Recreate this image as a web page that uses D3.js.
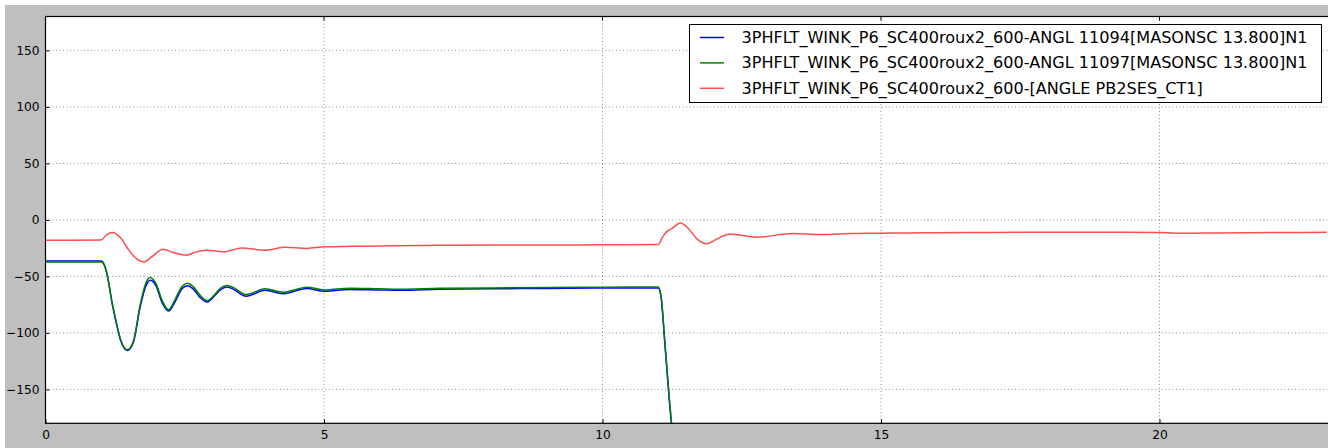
<!DOCTYPE html>
<html>
<head>
<meta charset="utf-8">
<script src="https://cdn.jsdelivr.net/npm/d3@7"></script>
<style>
  html, body { margin: 0; padding: 0; background: #ffffff; }
  svg { display: block; }
  text { font-family: "DejaVu Sans", sans-serif; fill: #000; }
</style>
</head>
<body>
<svg id="chart" width="1328" height="448"></svg>
<script>
// Simulation time (s) and angle traces (degrees)
const seriesNames = [
  "3PHFLT_WINK_P6_SC400roux2_600-ANGL 11094[MASONSC 13.800]N1",
  "3PHFLT_WINK_P6_SC400roux2_600-ANGL 11097[MASONSC 13.800]N1",
  "3PHFLT_WINK_P6_SC400roux2_600-[ANGLE PB2SES_CT1]"
];
const seriesColors = ["#0000ff", "#008000", "#ff2020"];

const tBlue = [0, 1.0, 1.05, 1.1, 1.2, 1.26, 1.35, 1.47, 1.58, 1.7, 1.8, 1.88, 1.98, 2.1, 2.21, 2.33, 2.45, 2.55, 2.65, 2.78, 2.9, 3.02, 3.14, 3.25, 3.36, 3.6, 3.94, 4.27, 4.69, 5.01, 5.46, 6.0, 6.36, 7.08, 8, 9, 10, 11.0, 11.05, 11.12, 11.2, 11.3];
const vBlue = [-36.3, -36.3, -39, -47, -75, -89, -107, -115.5, -108, -77, -59, -53.5, -58, -74, -80.7, -72, -61, -58.2, -61, -69, -72.7, -68, -62, -59.4, -61, -67.6, -62.3, -65.3, -60.8, -63.2, -61.5, -62, -62.3, -61.4, -61, -60.6, -60.3, -60.3, -68, -110, -160, -215];

const tGreen = [0, 1.0, 1.05, 1.1, 1.2, 1.26, 1.35, 1.47, 1.58, 1.7, 1.8, 1.88, 1.98, 2.1, 2.21, 2.33, 2.45, 2.55, 2.65, 2.78, 2.9, 3.02, 3.14, 3.25, 3.36, 3.6, 3.94, 4.27, 4.69, 5.01, 5.46, 6.0, 6.36, 7.08, 8, 9, 10, 11.0, 11.05, 11.12, 11.2, 11.3];
const vGreen = [-37.2, -37.2, -39.5, -47, -74, -88, -106, -115, -107, -75, -56, -51, -56, -72, -79.5, -70, -59, -56, -59, -67, -71.5, -67, -60.5, -58, -59.5, -66, -61, -64, -59.6, -62, -60.5, -61, -61.3, -60.5, -60.2, -59.8, -59.5, -59.4, -67, -108, -158, -213];

const tRed = [0, 1.0, 1.1, 1.21, 1.35, 1.5, 1.65, 1.77, 1.9, 2.11, 2.3, 2.53, 2.7, 2.9, 3.2, 3.52, 3.95, 4.3, 4.69, 5.02, 5.5, 6, 7.08, 8, 9, 10, 11.0, 11.08, 11.15, 11.25, 11.4, 11.55, 11.7, 11.87, 12.05, 12.29, 12.77, 13.42, 13.9, 14.3, 15, 15.5, 16, 17, 18, 19, 20, 20.5, 21, 22, 23];
const vRed = [-18, -17.8, -13, -11.2, -16, -27, -35, -37.2, -33, -26, -29, -31.3, -28.5, -26.9, -28.3, -24.8, -26.9, -24.3, -25.2, -23.8, -23.4, -23, -22.5, -22.3, -22.2, -22, -21.8, -15, -10.6, -7.5, -2.7, -8, -17, -21, -17, -12.4, -15.3, -12.1, -13, -12.3, -11.8, -11.5, -11.3, -11.1, -11, -11, -11.2, -11.8, -11.5, -11.2, -11];

const xTicks = [0, 5, 10, 15, 20];
const yTicks = [-150, -100, -50, 0, 50, 100, 150];

const svg = d3.select("#chart");
const W = 1328, H = 448;

// figure background
svg.append("rect").attr("x", 5).attr("y", 5).attr("width", W - 5).attr("height", H - 5).attr("fill", "#bfbfbf");

const plotLeft = 45.5, plotTop = 16.5, plotBottom = 423.3;
const x = d3.scaleLinear().domain([0, 23.1]).range([plotLeft, plotLeft + 55.7 * 23.1]);
const y = d3.scaleLinear().domain([-180, 180]).range([plotBottom, plotTop]);
const plotRight = x.range()[1];

// axes background
svg.append("rect").attr("x", plotLeft).attr("y", plotTop).attr("width", plotRight - plotLeft).attr("height", plotBottom - plotTop).attr("fill", "#ffffff");

svg.append("defs").append("clipPath").attr("id", "plotclip")
  .append("rect").attr("x", plotLeft).attr("y", plotTop).attr("width", plotRight - plotLeft).attr("height", plotBottom - plotTop);

// grid
const grid = svg.append("g").attr("stroke", "#000").attr("stroke-opacity", 0.55).attr("stroke-width", 0.8).attr("stroke-dasharray", "1,2.5");
grid.selectAll("line.gy").data(yTicks).join("line")
  .attr("x1", plotLeft).attr("x2", plotRight).attr("y1", d => y(d)).attr("y2", d => y(d));
grid.selectAll("line.gx").data(xTicks.filter(d => d > 0)).join("line")
  .attr("x1", d => x(d)).attr("x2", d => x(d)).attr("y1", plotTop).attr("y2", plotBottom);

// traces
const line = d3.line().x(d => x(d[0])).y(d => y(d[1])).curve(d3.curveMonotoneX);
const traces = [
  { t: tBlue, v: vBlue, color: seriesColors[0], opacity: 1 },
  { t: tGreen, v: vGreen, color: seriesColors[1], opacity: 1 },
  { t: tRed, v: vRed, color: seriesColors[2], opacity: 0.8 }
];
const plot = svg.append("g").attr("clip-path", "url(#plotclip)");
traces.forEach(s => {
  plot.append("path")
    .datum(s.t.map((t, i) => [t, s.v[i]]))
    .attr("fill", "none")
    .attr("stroke", s.color)
    .attr("stroke-opacity", s.opacity)
    .attr("stroke-width", 1.5)
    .attr("stroke-linejoin", "round")
    .attr("d", line);
});

// axes: inward ticks, labels outside
const fmt = d => (d < 0 ? "\u2212" + Math.abs(d) : String(d));
const yAxis = d3.axisLeft(y).tickValues(yTicks).tickSize(-4).tickPadding(10).tickFormat(fmt);
const xAxis = d3.axisBottom(x).tickValues(xTicks).tickSize(-4).tickPadding(10).tickFormat(fmt);

const gy = svg.append("g").attr("transform", `translate(${plotLeft},0)`).call(yAxis);
const gx = svg.append("g").attr("transform", `translate(0,${plotBottom})`).call(xAxis);
[gx, gy].forEach(g => {
  g.select(".domain").remove();
  g.selectAll(".tick line").attr("stroke", "#000").attr("stroke-width", 1);
  g.selectAll(".tick text").attr("font-family", "DejaVu Sans, sans-serif").attr("font-size", 12.2).attr("fill", "#000");
});
gy.selectAll(".tick text").attr("x", -6);
gx.selectAll(".tick text").attr("y", 7);

// top ticks (inward)
svg.append("g").selectAll("line").data(xTicks).join("line")
  .attr("x1", d => x(d)).attr("x2", d => x(d)).attr("y1", plotTop).attr("y2", plotTop + 4)
  .attr("stroke", "#000");

// spines
svg.append("rect").attr("x", plotLeft).attr("y", plotTop).attr("width", plotRight - plotLeft).attr("height", plotBottom - plotTop)
  .attr("fill", "none").attr("stroke", "#000").attr("stroke-width", 1.2);

// legend
const lg = svg.append("g");
lg.append("rect").attr("x", 689.5).attr("y", 24.5).attr("width", 632).attr("height", 78)
  .attr("fill", "#fff").attr("stroke", "#000").attr("stroke-width", 1);
seriesNames.forEach((name, i) => {
  const cy = 37.5 + i * 25.4;
  lg.append("line").attr("x1", 700).attr("x2", 724).attr("y1", cy).attr("y2", cy)
    .attr("stroke", seriesColors[i]).attr("stroke-opacity", traces[i].opacity).attr("stroke-width", 1.5);
  lg.append("text").attr("x", 741.5).attr("y", cy + 5.5)
    .attr("font-size", 16.1).text(name);
});
</script>
</body>
</html>
